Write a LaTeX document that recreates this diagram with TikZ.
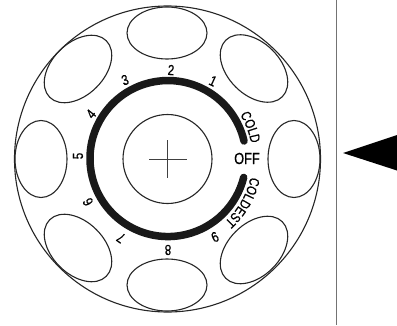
\documentclass[tikz,border=0pt]{standalone}
\usepackage{fontspec}
\setmainfont{Liberation Sans}
\newfontfamily\dialfont[FakeStretch=0.8,FakeBold=0.5]{Liberation Sans}
\usetikzlibrary{decorations.text}
\tikzset{
  x=1pt,y=1pt,
  hairline/.style={draw=black!85,line width=1.1pt},
  pocket/.style={hairline,fill=none},
  dial/.style={draw=black!90,line width=7.5pt,line cap=round},
  num/.style={inner sep=0pt,font=\dialfont\fontsize{14.5}{14.5}\selectfont},
  curved/.style={decoration={text along path,text align=center,raise=0pt,
     text={|\dialfont\fontsize{14}{14}\selectfont|#1}},decorate}
}
\begin{document}
\begin{tikzpicture}
\useasboundingbox (0,0) rectangle (397,325);
\fill[white] (0,0) rectangle (397,325);
\coordinate (c) at (167.5,166);
\draw[hairline] (c) circle[radius=153pt];
% pockets
\draw[pocket] (167,292) ellipse[x radius=40pt,y radius=26pt];
\draw[pocket] (167,40) ellipse[x radius=40pt,y radius=26pt];
\draw[pocket] (41,166) ellipse[x radius=26pt,y radius=38.5pt];
\draw[pocket] (294,166) ellipse[x radius=26pt,y radius=38.5pt];
\draw[pocket,rotate around={45:(78,256)}] (78,256) ellipse[x radius=40pt,y radius=26pt];
\draw[pocket,rotate around={-45:(254,256.5)}] (254,256.5) ellipse[x radius=40pt,y radius=26pt];
\draw[pocket,rotate around={-45:(78,77)}] (78,77) ellipse[x radius=40pt,y radius=26pt];
\draw[pocket,rotate around={45:(254,75)}] (254,75) ellipse[x radius=40pt,y radius=26pt];
% hub
\draw[hairline] (c) circle[radius=44.5pt];
\coordinate (hl) at (149,166); \coordinate (hr) at (187,166);
\coordinate (vt) at (167.5,185); \coordinate (vb) at (167.5,147);
\draw[draw=black!75,line width=1pt] (hl) -- (hr);
\draw[draw=black!75,line width=1pt] (vt) -- (vb);
% dial arc
\draw[dial] (244,184) arc[start angle=13,end angle=346,radius=78pt];
% numbers
\node[num,rotate=-25] (n1) at (213,244) {1};
\node[num,rotate=-4] (n2) at (171,255) {2};
\node[num,rotate=18] (n3) at (125,245) {3};
\node[num,rotate=50] (n4) at (91,211) {4};
\node[num,rotate=90] (n5) at (78,169) {5};
\node[num,rotate=118] (n6) at (88,123) {6};
\node[num,rotate=145] (n7) at (121,87) {7};
\node[num,rotate=180] (n8) at (168,75) {8};
\node[num,rotate=205] (n9) at (215,88) {9};
\node[inner sep=0pt,font=\dialfont\fontsize{16}{16}\selectfont] (off) at (247,166.5) {OFF};
% curved words
\path[curved={COLD}] (c) ++(36:85pt) arc[start angle=36,end angle=6,radius=85pt];
\path[curved={COLDEST}] (c) ++(-10:85pt) arc[start angle=-10,end angle=-50,radius=85pt];
% pointer
\draw[draw=black!55,line width=0.9pt] (336.5,325) coordinate (vtop) -- (336.5,0) coordinate (vbot);
\fill[black] (343,172) -- (397,190) -- (397,154.5) -- cycle;
\end{tikzpicture}
\end{document}
